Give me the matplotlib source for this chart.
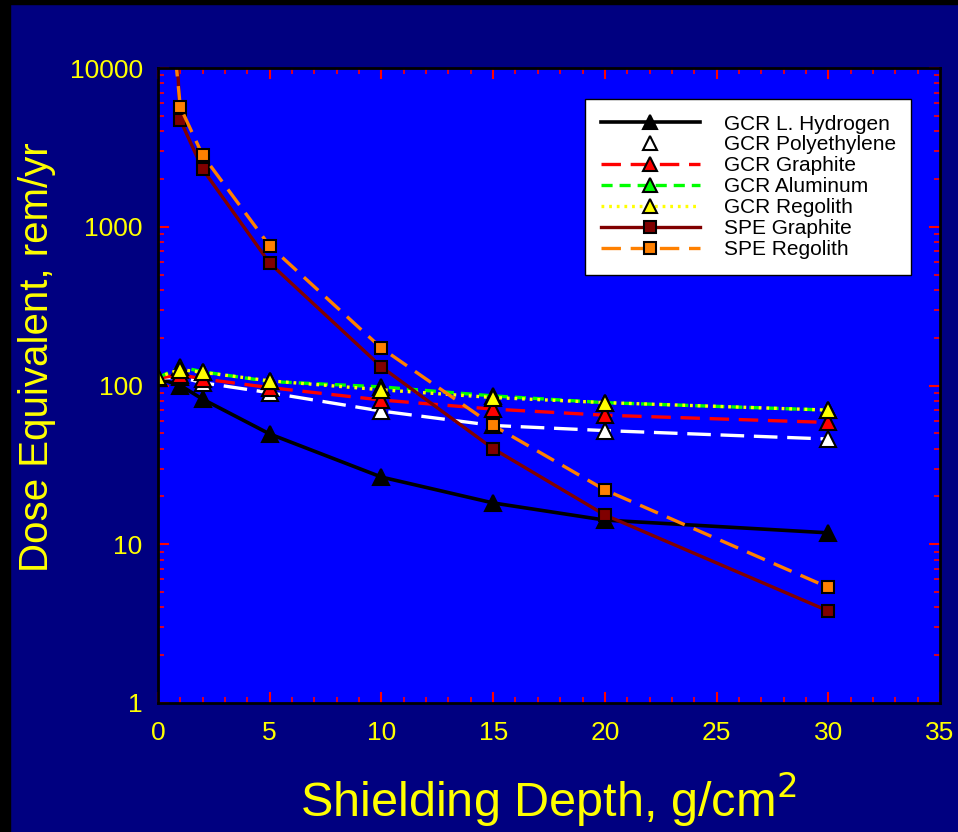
import matplotlib
matplotlib.use("Agg")
import matplotlib.pyplot as plt
from matplotlib.patches import Rectangle
from matplotlib.ticker import MultipleLocator, LogLocator, NullFormatter, FixedFormatter, FixedLocator

plt.rcParams["font.family"] = ["Liberation Sans", "DejaVu Sans"]
plt.rcParams["lines.scale_dashes"] = False

# shielding depth, g/cm2
depth = [0, 1, 2, 5, 10, 15, 20, 30]

# dose equivalent, rem/yr
gcr_hydrogen = [111, 100, 82, 49.5, 26.5, 18.2, 14.2, 11.8]
gcr_polyethylene = [111, 113, 104, 90, 69, 56, 52, 46]
gcr_graphite = [111, 117, 110, 97, 81, 71, 65, 58.5]
gcr_aluminum = [112, 131, 122, 106, 98, 86, 78, 70]
gcr_regolith = [113, 126, 121, 107, 94, 84, 78, 70]
spe_graphite = [2.5e6, 4700, 2300, 590, 131, 40, 15.3, 3.8]
spe_regolith = [1.55e5, 5660, 2820, 757, 172, 56, 22, 5.35]

y_ticks = [1, 10, 100, 1000, 10000]
y_tick_labels = ["1", "10", "100", "1000", "10000"]

fig = plt.figure(figsize=(9.58, 8.32), dpi=100, facecolor="#000080")
ax = fig.add_axes([158 / 958, 129 / 832, 782 / 958, 635 / 832])
ax.set_facecolor("#0000FF")

# black frame strips at the top and left edge of the slide
fig.patches.append(Rectangle((0, 0), 10 / 958, 1, transform=fig.transFigure,
                             color="black", zorder=-1))
fig.patches.append(Rectangle((0, 1 - 4 / 832), 1, 4 / 832, transform=fig.transFigure,
                             color="black", zorder=-1))

mk = dict(markeredgecolor="black", markeredgewidth=1.5)
tri = 11
sq = 9

ax.plot(depth, gcr_hydrogen, color="black", lw=2.6, marker="^", ms=tri,
        markerfacecolor="black", label="GCR L. Hydrogen", **mk)
ax.plot(depth, gcr_polyethylene, color="white", lw=2.4, dashes=(17, 7), marker="^", ms=tri,
        markerfacecolor="white", label="GCR Polyethylene", **mk)
ax.plot(depth, gcr_graphite, color="#FF0000", lw=2.4, dashes=(14, 7), marker="^", ms=tri,
        markerfacecolor="#FF0000", label="GCR Graphite", **mk)
ax.plot(depth, gcr_aluminum, color="#00FF00", lw=2.4, dashes=(8, 5), marker="^", ms=tri,
        markerfacecolor="#00FF00", label="GCR Aluminum", **mk)
ax.plot(depth, gcr_regolith, color="#FFFF00", lw=2.4, dashes=(2, 3.5), marker="^", ms=tri,
        markerfacecolor="#FFFF00", label="GCR Regolith", **mk)
ax.plot(depth, spe_graphite, color="#800000", lw=2.4, marker="s", ms=sq,
        markerfacecolor="#800000", label="SPE Graphite", **mk)
ax.plot(depth, spe_regolith, color="#FF8000", lw=2.4, dashes=(14, 7), marker="s", ms=sq,
        markerfacecolor="#FF8000", label="SPE Regolith", **mk)

ax.set_yscale("log")
ax.set_xlim(0, 35)
ax.set_ylim(1, 10000)

ax.xaxis.set_major_locator(MultipleLocator(5))
ax.xaxis.set_minor_locator(MultipleLocator(1))
ax.yaxis.set_major_locator(FixedLocator(y_ticks))
ax.yaxis.set_major_formatter(FixedFormatter(y_tick_labels))
ax.yaxis.set_minor_locator(LogLocator(base=10, subs=range(2, 10)))
ax.yaxis.set_minor_formatter(NullFormatter())

ax.tick_params(which="both", direction="in", color="red", top=True, right=True,
               labelcolor="#FFFF00")
ax.tick_params(which="major", length=8, width=1.5)
ax.tick_params(which="minor", length=4, width=1.2)
ax.tick_params(axis="x", labelsize=19, pad=13)
ax.tick_params(axis="y", labelsize=19, pad=11)

for s in ax.spines.values():
    s.set_color("black")
    s.set_linewidth(2)

fig.text(37 / 958, 1 - 357 / 832, "Dose Equivalent, rem/yr", rotation=90,
         color="#FFFF00", fontsize=29, ha="center", va="center")
fig.text(548 / 958, 1 - 817 / 832, "Shielding Depth, g/cm$^{2}$", color="#FFFF00",
         fontsize=35, ha="center", va="baseline")

leg = ax.legend(loc="upper left", bbox_to_anchor=(585 / 958, 1 - 99 / 832),
                bbox_transform=fig.transFigure, fontsize=15, frameon=True,
                fancybox=False, framealpha=1, edgecolor="black",
                handlelength=4.75, handletextpad=1.15, labelspacing=0.09,
                borderpad=0.75, borderaxespad=0, markerscale=0.9)
leg.get_frame().set_linewidth(1.0)
for t in leg.get_texts():
    t.set_color("black")

fig.savefig("out.png", dpi=100, facecolor=fig.get_facecolor())
